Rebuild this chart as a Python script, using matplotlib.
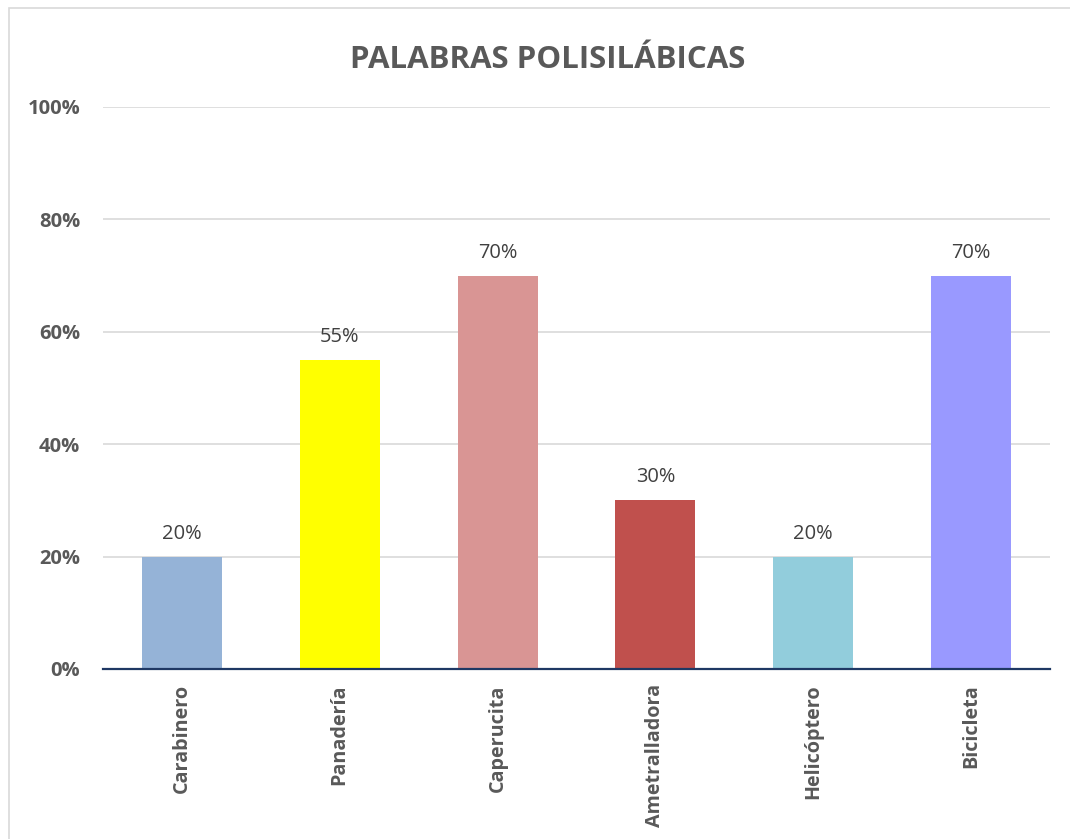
import matplotlib
matplotlib.use("Agg")
import os
import matplotlib.pyplot as plt
from matplotlib import font_manager as fm
from matplotlib.patches import Rectangle

categories = ["Carabinero", "Panadería", "Caperucita", "Ametralladora", "Helicóptero", "Bicicleta"]
values = [0.20, 0.55, 0.70, 0.30, 0.20, 0.70]
bar_colors = ["#95B3D7", "#FFFF00", "#D99594", "#C0504D", "#92CDDC", "#9999FF"]
yticks = [0, 0.2, 0.4, 0.6, 0.8, 1.0]
title = "PALABRAS POLISILÁBICAS"


def pick_fonts():
    for fam in ["Open Sans", "Noto Sans", "Carlito"]:
        reg = bold = None
        for f in fm.fontManager.ttflist:
            base = os.path.basename(f.fname)
            if f.name != fam or f.style != "normal":
                continue
            if "ondensed" in base or "[" in base or "Italic" in base:
                continue
            if f.weight == 400 and base.replace("-", "").lower().endswith(("regular.ttf", "regular.otf")):
                reg = f.fname
            if f.weight == 700 and base.replace("-", "").lower().endswith(("bold.ttf", "bold.otf")):
                bold = f.fname
        if reg and bold:
            return reg, bold
    return None, None


reg_file, bold_file = pick_fonts()
if reg_file:
    fp_reg = lambda s: fm.FontProperties(fname=reg_file, size=s)
    fp_bold = lambda s: fm.FontProperties(fname=bold_file, size=s)
else:
    fp_reg = lambda s: fm.FontProperties(family="DejaVu Sans", size=s)
    fp_bold = lambda s: fm.FontProperties(family="DejaVu Sans", weight="bold", size=s)

txt = "#595959"

fig = plt.figure(figsize=(10.7, 8.39), dpi=100)
fig.patches.append(Rectangle((9/1070, -0.1), 1.2, 1 - 8/839 + 0.1, transform=fig.transFigure,
                             fill=False, edgecolor="#D9D9D9", linewidth=1.2, zorder=0))
ax = fig.add_axes([103/1070, 1 - 669/839, (1050 - 103)/1070, (669 - 107)/839])

x = list(range(len(categories)))
ax.bar(x, values, width=0.506, color=bar_colors, zorder=3)
for xi, v in zip(x, values):
    ax.annotate(f"{v*100:.0f}%", (xi, v), xytext=(0, 13), textcoords="offset points",
                ha="center", va="baseline", fontproperties=fp_reg(14.5), color="#404040")

ax.set_xlim(-0.5, len(categories) - 0.5)
ax.set_ylim(0, 1.0)
ax.set_yticks(yticks)
ax.set_yticklabels([f"{t*100:.0f}%" for t in yticks], fontproperties=fp_bold(14.5), color=txt)
ax.grid(axis="y", color="#D9D9D9", linewidth=1.2, zorder=0)
ax.set_axisbelow(True)
for s in ["top", "right", "left"]:
    ax.spines[s].set_visible(False)
ax.spines["bottom"].set_color("#1F3864")
ax.spines["bottom"].set_linewidth(1.6)
ax.spines["bottom"].set_zorder(4)
ax.tick_params(axis="both", length=0)
ax.tick_params(axis="y", pad=16.5)
ax.tick_params(axis="x", pad=11)
ax.set_xticks(x)
ax.set_xticklabels(categories, rotation=90, va="top", ha="center",
                   fontproperties=fp_bold(14.2), color=txt)

fig.text(548/1070, 1 - 68/839, title, ha="center", va="baseline",
         fontproperties=fp_bold(22.5), color=txt)

fig.savefig("out.png", dpi=100)
